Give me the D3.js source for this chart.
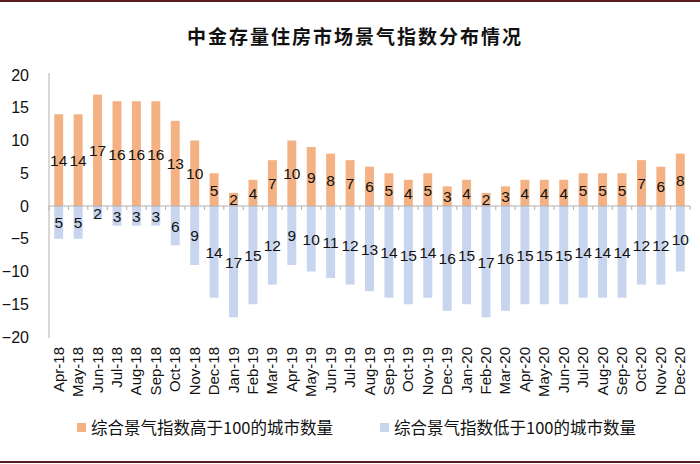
<!DOCTYPE html>
<html>
<head>
<meta charset="utf-8">
<script src="https://cdn.jsdelivr.net/npm/d3@7"></script>
<style>
  body { margin: 0; background: #fff; }
</style>
</head>
<body>
<div class="chart"></div>
<script>
var months = ['Apr-18','May-18','Jun-18','Jul-18','Aug-18','Sep-18','Oct-18','Nov-18','Dec-18',
              'Jan-19','Feb-19','Mar-19','Apr-19','May-19','Jun-19','Jul-19','Aug-19','Sep-19','Oct-19','Nov-19','Dec-19',
              'Jan-20','Feb-20','Mar-20','Apr-20','May-20','Jun-20','Jul-20','Aug-20','Sep-20','Oct-20','Nov-20','Dec-20'];
var above = [14,14,17,16,16,16,13,10,5,2,4,7,10,9,8,7,6,5,4,5,3,4,2,3,4,4,4,5,5,5,7,6,8];
var below = [5,5,2,3,3,3,6,9,14,17,15,12,9,10,11,12,13,14,15,14,16,15,17,16,15,15,15,14,14,14,12,12,10];
var yTicks = [20,15,10,5,0,-5,-10,-15,-20];
var seriesNames = ['综合景气指数高于100的城市数量', '综合景气指数低于100的城市数量'];
var colors = ['#F4B183', '#C8D5EE'];

var W = 700, H = 464;
var svg = d3.select(".chart").append("svg")
    .attr("width", W)
    .attr("height", H);

// top / bottom rule
svg.append("rect").attr("x", 0).attr("y", 0).attr("width", W).attr("height", 2).attr("fill", "#5b1d1d");
svg.append("rect").attr("x", 0).attr("y", 461).attr("width", W).attr("height", 2).attr("fill", "#5b1d1d");

svg.append("text")
    .attr("x", 355)
    .attr("y", 44)
    .attr("text-anchor", "middle")
    .attr("font-family", "Noto Sans CJK SC")
    .attr("font-weight", "bold")
    .attr("letter-spacing", "2px")
    .style("font-size", "19px")
    .attr("fill", "#111")
    .text("中金存量住房市场景气指数分布情况");

var x = d3.scaleBand().domain(months).range([49, 690]).paddingInner(0.54).paddingOuter(0.27);
var y = d3.scaleLinear().domain([-20, 20]).range([337, 75]);

// y axis
var yAxis = svg.append("g")
    .attr("transform", "translate(49,0)")
    .call(d3.axisLeft(y).tickValues(yTicks).tickSize(0).tickPadding(20));
yAxis.select(".domain").attr("stroke", "#b0b0b0").attr("d", "M0," + (y(20) - 2) + "V" + (y(-20) + 1));
yAxis.selectAll("text")
    .attr("font-family", "Liberation Sans, Arial")
    .style("font-size", "16px")
    .attr("fill", "#111");

// bars
svg.append("g").selectAll("rect")
    .data(above)
    .join("rect")
    .attr("x", (d, i) => x(months[i]))
    .attr("y", d => y(d))
    .attr("width", x.bandwidth())
    .attr("height", d => y(0) - y(d))
    .attr("fill", colors[0]);

svg.append("g").selectAll("rect")
    .data(below)
    .join("rect")
    .attr("x", (d, i) => x(months[i]))
    .attr("y", y(0))
    .attr("width", x.bandwidth())
    .attr("height", d => y(-d) - y(0))
    .attr("fill", colors[1]);

// zero axis with ticks
var x0 = svg.append("g")
    .attr("transform", "translate(0," + y(0) + ")");
x0.append("line")
    .attr("x1", 49).attr("x2", 690)
    .attr("stroke", "#b0b0b0");
x0.selectAll("line.tk")
    .data(d3.range(months.length + 1))
    .join("line")
    .attr("class", "tk")
    .attr("x1", i => 49 + i * x.step())
    .attr("x2", i => 49 + i * x.step())
    .attr("y1", 0).attr("y2", 4)
    .attr("stroke", "#b0b0b0");

// value labels
svg.append("g").selectAll("text")
    .data(above)
    .join("text")
    .attr("x", (d, i) => x(months[i]) + x.bandwidth() / 2)
    .attr("y", d => y(d / 2) + 6)
    .attr("text-anchor", "middle")
    .attr("font-family", "Liberation Sans, Arial")
    .style("font-size", "15.5px")
    .attr("fill", "#111")
    .text(d => d);

svg.append("g").selectAll("text")
    .data(below)
    .join("text")
    .attr("x", (d, i) => x(months[i]) + x.bandwidth() / 2)
    .attr("y", d => y(-d / 2) + 6)
    .attr("text-anchor", "middle")
    .attr("font-family", "Liberation Sans, Arial")
    .style("font-size", "15.5px")
    .attr("fill", "#111")
    .text(d => d);

// month labels
svg.append("g").selectAll("text")
    .data(months)
    .join("text")
    .attr("transform", d => "translate(" + (x(d) + x.bandwidth() / 2 + 5) + ",347) rotate(-90)")
    .attr("text-anchor", "end")
    .attr("font-family", "Liberation Sans, Arial")
    .style("font-size", "15px")
    .attr("fill", "#111")
    .text(d => d);

// legend
var legX = [77, 380];
for (var i = 0; i < 2; i++) {
    svg.append("rect")
        .attr("x", legX[i])
        .attr("y", 423)
        .attr("width", 9)
        .attr("height", 9)
        .attr("fill", colors[i]);
    svg.append("text")
        .attr("x", legX[i] + 14)
        .attr("y", 434)
        .text(seriesNames[i])
        .style("font-size", "16.5px")
        .attr("font-family", "Noto Sans CJK SC")
        .attr("fill", "#111");
}
</script>
</body>
</html>
